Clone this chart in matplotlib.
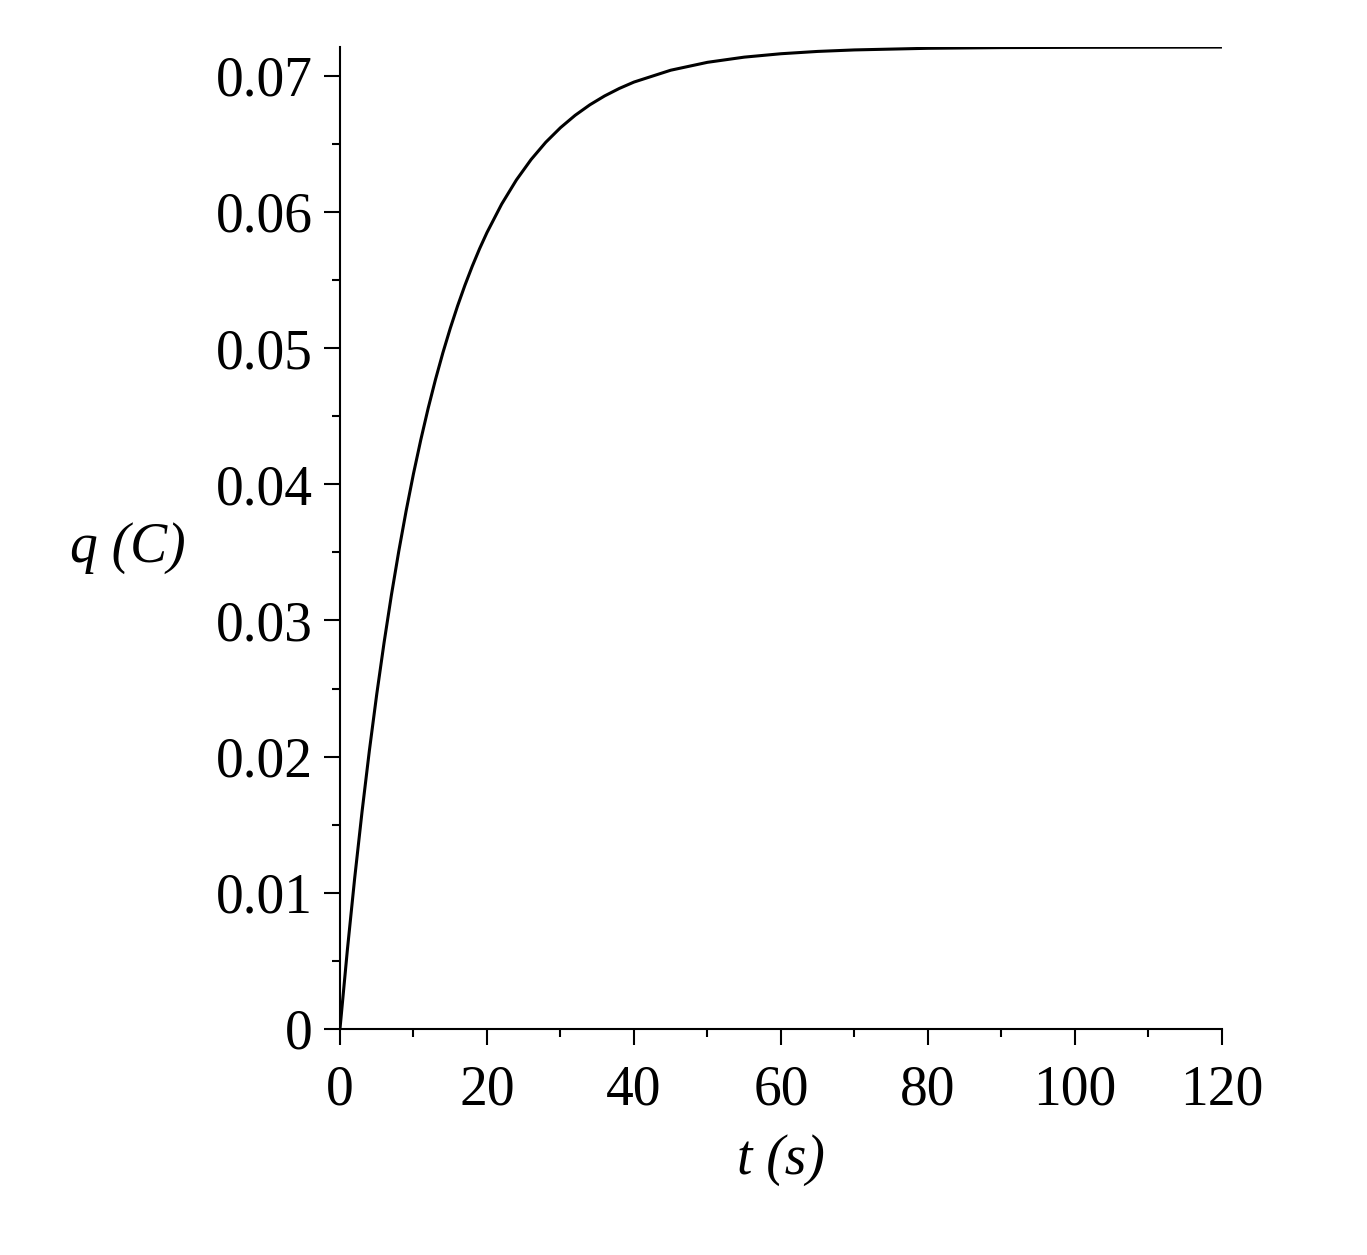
import matplotlib
matplotlib.use('Agg')
import matplotlib.pyplot as plt
from matplotlib.ticker import MultipleLocator

# charge q (C) against time t (s)
t_s = [0, 1, 2, 3, 4, 5, 6, 7, 8, 9, 10, 11, 12, 13, 14, 15, 16, 17, 18, 19, 20,
       22, 24, 26, 28, 30, 32, 34, 36, 38, 40, 45, 50, 55, 60, 65, 70, 80, 90,
       100, 110, 120]
q_c = [0.0, 0.00577, 0.01107, 0.01594, 0.02044, 0.02457, 0.02837, 0.03187,
       0.03508, 0.03804, 0.04077, 0.04327, 0.04558, 0.04770, 0.04965, 0.05144,
       0.05309, 0.05461, 0.05601, 0.05730, 0.05848, 0.06057, 0.06234, 0.06384,
       0.06511, 0.06618, 0.06709, 0.06786, 0.06851, 0.06906, 0.06953, 0.07040,
       0.07098, 0.07136, 0.07161, 0.07178, 0.07189, 0.07201, 0.07206, 0.07208,
       0.07209, 0.07210]

x_ticks = [0, 20, 40, 60, 80, 100, 120]
y_ticks = [0, 0.01, 0.02, 0.03, 0.04, 0.05, 0.06, 0.07]
y_tick_labels = ['0', '0.01', '0.02', '0.03', '0.04', '0.05', '0.06', '0.07']

plt.rcParams['font.family'] = ['Liberation Serif', 'DejaVu Serif']

fig = plt.figure(figsize=(13.67, 12.55), dpi=100)
ax = fig.add_axes([0.2487, 0.1801, 0.6452, 0.7824])

ax.plot(t_s, q_c, color='black', lw=2.2, solid_capstyle='butt')

ax.set_xlim(0, 120)
ax.set_ylim(0, max(q_c))

for side in ['top', 'right']:
    ax.spines[side].set_visible(False)
for side in ['left', 'bottom']:
    ax.spines[side].set_linewidth(1.5)

ax.set_xticks(x_ticks)
ax.set_yticks(y_ticks)
ax.set_yticklabels(y_tick_labels)
ax.xaxis.set_minor_locator(MultipleLocator(10))
ax.yaxis.set_minor_locator(MultipleLocator(0.005))

ax.tick_params(which='major', length=11.5, width=1.5, labelsize=40, direction='out')
ax.tick_params(which='minor', length=5.8, width=1.5, direction='out')
ax.tick_params(axis='x', which='major', pad=14)
ax.tick_params(axis='y', which='major', pad=8)

ax.set_xlabel('t (s)', fontsize=40, style='italic', va='center')
ax.xaxis.set_label_coords(0.5, -0.133)
ax.set_ylabel('q (C)', fontsize=40, style='italic', rotation=0, ha='center', va='center')
ax.yaxis.set_label_coords(-0.240, 0.490)

fig.savefig('out.png', dpi=100)
